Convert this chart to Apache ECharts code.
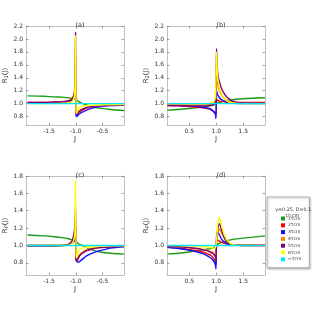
<!DOCTYPE html>
<html><head><meta charset="utf-8">
<script src="https://cdn.jsdelivr.net/npm/echarts@6/dist/echarts.min.js"></script>
<style>html,body{margin:0;padding:0;background:#fff}#c{width:312px;height:312px}</style>
</head><body><div id="c"></div>
<script>
// x positions (left panels a, c) and (right panels b, d)
const xLeft = [-1.9,-1.6,-1.4,-1.25,-1.15,-1.1,-1.06,-1.03,-1.015,-1.005,-0.995,-0.985,-0.97,-0.95,-0.92,-0.88,-0.8,-0.7,-0.55,-0.35,-0.1];
const xRight = [0.1,0.3,0.5,0.65,0.75,0.85,0.9,0.94,0.97,0.985,0.995,1.005,1.015,1.03,1.06,1.1,1.15,1.2,1.3,1.5,1.9];

const seriesNames = ['1τcm','2τcm','3τcm','4τcm','5τcm','6τcm','∞τcm'];
const seriesColors = ['#1a9a1a','#ff0000','#1010ff','#ff8c00','#800080','#ffff00','#00e5ff'];

// panel (a)
const a_1 = [1.12,1.115,1.105,1.10,1.09,1.085,1.08,1.075,1.07,1.065,1.06,1.055,1.045,1.035,1.02,1.005,0.98,0.955,0.93,0.91,0.895];
const a_2 = [1.02,1.02,1.025,1.03,1.04,1.06,1.09,1.15,1.22,1.30,0.85,0.83,0.84,0.86,0.88,0.90,0.93,0.95,0.965,0.975,0.98];
const a_3 = [1.01,1.01,1.015,1.02,1.03,1.04,1.07,1.12,1.20,1.45,0.82,0.80,0.81,0.83,0.85,0.87,0.90,0.93,0.955,0.97,0.98];
const a_4 = [1.015,1.015,1.02,1.025,1.035,1.05,1.08,1.14,1.25,1.75,0.85,0.83,0.85,0.88,0.90,0.92,0.94,0.955,0.97,0.98,0.985];
const a_5 = [1.02,1.02,1.025,1.03,1.04,1.05,1.08,1.15,1.35,2.10,0.86,0.83,0.84,0.87,0.89,0.91,0.94,0.955,0.97,0.98,0.985];
const a_6 = [1.0,1.0,1.0,1.005,1.01,1.02,1.04,1.10,1.30,2.05,0.90,0.85,0.88,0.92,0.95,0.96,0.97,0.975,0.98,0.985,0.99];
const a_7 = [1.0,1.0,1.0,1.0,1.0,1.0,1.0,1.0,1.0,1.0,1.0,1.0,1.0,1.0,1.0,1.0,1.0,1.0,1.0,1.0,1.0];

// panel (b)
const b_1 = [0.90,0.91,0.925,0.94,0.95,0.96,0.97,0.975,0.985,0.99,0.995,1.0,1.005,1.01,1.02,1.03,1.04,1.05,1.06,1.075,1.09];
const b_2 = [0.97,0.965,0.955,0.945,0.935,0.92,0.905,0.885,0.86,0.84,0.82,1.07,1.06,1.05,1.04,1.035,1.03,1.025,1.02,1.02,1.02];
const b_3 = [0.98,0.975,0.965,0.955,0.945,0.93,0.915,0.89,0.86,0.83,0.77,1.20,1.17,1.13,1.09,1.06,1.04,1.025,1.01,1.0,1.0];
const b_4 = [0.985,0.98,0.98,0.98,0.98,0.985,0.99,1.0,1.02,1.05,1.10,1.40,1.35,1.28,1.20,1.13,1.08,1.05,1.02,1.01,1.005];
const b_5 = [0.97,0.97,0.965,0.965,0.965,0.97,0.975,0.985,1.0,1.05,1.30,1.85,1.60,1.45,1.33,1.23,1.15,1.10,1.04,1.01,1.005];
const b_6 = [1.0,1.0,1.0,1.0,1.0,1.005,1.01,1.02,1.05,1.12,1.40,1.80,1.55,1.38,1.25,1.15,1.08,1.04,1.01,1.0,1.0];
const b_7 = [1.0,1.0,1.0,1.0,1.0,1.0,1.0,1.0,1.0,1.0,1.0,1.0,1.0,1.0,1.0,1.0,1.0,1.0,1.0,1.0,1.0];

// panel (c)
const c_1 = [1.12,1.11,1.10,1.09,1.08,1.07,1.065,1.06,1.05,1.045,1.04,1.035,1.03,1.02,1.01,1.0,0.975,0.95,0.925,0.91,0.90];
const c_2 = [1.0,1.0,1.0,1.0,1.01,1.02,1.04,1.08,1.14,1.22,0.86,0.83,0.84,0.86,0.89,0.91,0.94,0.96,0.975,0.985,0.99];
const c_3 = [0.99,0.99,0.99,1.0,1.01,1.02,1.03,1.05,1.08,1.10,0.85,0.82,0.81,0.81,0.82,0.84,0.88,0.91,0.94,0.97,0.985];
const c_4 = [1.0,1.0,1.0,1.0,1.01,1.03,1.06,1.12,1.20,1.30,0.85,0.82,0.84,0.87,0.90,0.92,0.95,0.965,0.98,0.99,0.99];
const c_5 = [1.0,1.0,1.0,1.0,1.01,1.03,1.07,1.15,1.25,1.45,0.84,0.82,0.83,0.86,0.89,0.91,0.94,0.96,0.975,0.985,0.99];
const c_6 = [1.0,1.0,1.0,1.0,1.0,1.01,1.03,1.08,1.20,1.75,0.90,0.86,0.90,0.94,0.96,0.97,0.98,0.985,0.99,0.995,1.0];
const c_7 = [1.0,1.0,1.0,1.0,1.0,1.0,1.0,1.0,1.0,1.0,1.0,1.0,1.0,1.0,1.0,1.0,1.0,1.0,1.0,1.0,1.0];

// panel (d)
const d_1 = [0.90,0.91,0.925,0.94,0.95,0.96,0.965,0.97,0.98,0.985,0.99,1.0,1.005,1.015,1.025,1.035,1.045,1.055,1.07,1.085,1.11];
const d_2 = [0.98,0.97,0.955,0.94,0.925,0.90,0.885,0.86,0.83,0.81,0.78,1.04,1.06,1.06,1.05,1.035,1.025,1.015,1.01,1.005,1.005];
const d_3 = [0.98,0.965,0.945,0.925,0.905,0.875,0.855,0.83,0.80,0.77,0.73,1.10,1.14,1.15,1.12,1.07,1.04,1.02,1.005,1.0,1.0];
const d_4 = [0.99,0.985,0.975,0.965,0.955,0.94,0.93,0.92,0.90,0.89,0.87,1.04,1.09,1.15,1.19,1.14,1.08,1.04,1.01,1.0,1.0];
const d_5 = [0.99,0.985,0.975,0.965,0.95,0.935,0.92,0.905,0.885,0.87,0.84,1.05,1.12,1.20,1.25,1.17,1.09,1.04,1.01,1.0,1.0];
const d_6 = [1.0,1.0,0.995,0.99,0.985,0.98,0.975,0.97,0.97,0.97,0.97,1.05,1.15,1.27,1.32,1.22,1.12,1.06,1.01,1.0,1.0];
const d_7 = [1.0,1.0,1.0,1.0,1.0,1.0,1.0,1.0,1.0,1.0,1.0,1.0,1.0,1.0,1.0,1.0,1.0,1.0,1.0,1.0,1.0];

const panelTitles = ['(a)','(b)','(c)','(d)'];
const panelSubs = ['1','2','P','P'];
const xTicksLeft = [-1.5,-1.0,-0.5];
const xTicksRight = [0.5,1.0,1.5];
const yTicksTop = [0.8,1.0,1.2,1.4,1.6,1.8,2.0,2.2];
const yTicksBottom = [0.8,1.0,1.2,1.4,1.6,1.8];
const legendTitle = 'γ=0.25, D=0.1;';
const legendSub = 't/τcm :';

const panelsY = [[a_1,a_2,a_3,a_4,a_5,a_6,a_7],[b_1,b_2,b_3,b_4,b_5,b_6,b_7],[c_1,c_2,c_3,c_4,c_5,c_6,c_7],[d_1,d_2,d_3,d_4,d_5,d_6,d_7]];

const boxes = [
  {left:26, top:26, xr:[-1.93,-0.1], yr:[0.67,2.2], xs:xLeft, xt:xTicksLeft, yt:yTicksTop},
  {left:167, top:26, xr:[0.09,1.9], yr:[0.67,2.2], xs:xRight, xt:xTicksRight, yt:yTicksTop},
  {left:26, top:176, xr:[-1.93,-0.1], yr:[0.66,1.8], xs:xLeft, xt:xTicksLeft, yt:yTicksBottom},
  {left:167, top:176, xr:[0.09,1.9], yr:[0.66,1.8], xs:xRight, xt:xTicksRight, yt:yTicksBottom}
];

const txt = '#333';
const frame = '#b0b0b0';
const grids=[], xAxes=[], yAxes=[], series=[], titles=[];
boxes.forEach((b,i)=>{
  grids.push({left:b.left, top:b.top, width:98, height:99, containLabel:false});
  const fmt = v => v.toFixed(1);
  xAxes.push({gridIndex:i, type:'value', min:b.xr[0], max:b.xr[1], position:'bottom',
    name:'J', nameLocation:'middle', nameGap:11, nameTextStyle:{fontSize:7, color:txt, fontFamily:'DejaVu Sans'},
    axisLine:{onZero:false, lineStyle:{color:frame, width:0.8}},
    axisTick:{inside:true, length:2.5, customValues:b.xt, lineStyle:{color:'#666', width:0.6}},
    axisLabel:{customValues:b.xt, formatter:fmt, fontSize:6, color:txt, margin:3, fontFamily:'DejaVu Sans'},
    splitLine:{show:false}});
  yAxes.push({gridIndex:i, type:'value', min:b.yr[0], max:b.yr[1], position:'left',
    name:'{r|R}{s|'+panelSubs[i]+'}{r|(J)}', nameLocation:'middle', nameGap:15,
    nameTextStyle:{rich:{r:{fontSize:7,color:txt,fontFamily:'DejaVu Sans'}, s:{fontSize:5,color:txt,fontFamily:'DejaVu Sans', padding:[4,0,0,0]}}},
    axisLine:{onZero:false, lineStyle:{color:frame, width:0.8}},
    axisTick:{inside:true, length:2.5, customValues:b.yt, lineStyle:{color:'#666', width:0.6}},
    axisLabel:{customValues:b.yt, formatter:fmt, fontSize:6, color:txt, margin:3, fontFamily:'DejaVu Sans'},
    splitLine:{show:false}});
  titles.push({text:panelTitles[i], left:b.left+49, top:b.top-9, textAlign:'center',
    textStyle:{fontSize:6.5, fontWeight:'normal', color:txt, fontFamily:'DejaVu Sans'}});
  panelsY[i].forEach((ys,k)=>{
    series.push({type:'line', name:seriesNames[k], xAxisIndex:i, yAxisIndex:i,
      data: b.xs.map((x,j)=>[x, ys[j]]), showSymbol:false, symbol:'none', smooth:0.25,
      lineStyle:{width:1.4, color:seriesColors[k]}, itemStyle:{color:seriesColors[k]}, z:2+k, animation:false});
  });
});
// mirror frame axes (top / right)
boxes.forEach((b,i)=>{
  xAxes.push({gridIndex:i, type:'value', min:b.xr[0], max:b.xr[1], position:'top',
    axisLine:{onZero:false, lineStyle:{color:frame, width:0.8}},
    axisTick:{inside:true, length:2.5, customValues:b.xt, lineStyle:{color:'#666', width:0.6}},
    axisLabel:{show:false}, splitLine:{show:false}});
  yAxes.push({gridIndex:i, type:'value', min:b.yr[0], max:b.yr[1], position:'right',
    axisLine:{onZero:false, lineStyle:{color:frame, width:0.8}},
    axisTick:{inside:true, length:2.5, customValues:b.yt, lineStyle:{color:'#666', width:0.6}},
    axisLabel:{show:false}, splitLine:{show:false}});
});
titles.push({text:legendTitle, left:289, top:202, textAlign:'center',
  textStyle:{fontSize:4.8, fontWeight:'normal', color:txt, fontFamily:'DejaVu Sans'}});
titles.push({text:legendSub, left:289, top:208, textAlign:'center',
  textStyle:{fontSize:4.8, fontWeight:'normal', color:txt, fontFamily:'DejaVu Sans'}});

const chart = echarts.init(document.getElementById('c'), null, {renderer:'canvas'});
chart.setOption({
  animation:false,
  title: titles,
  grid: grids, xAxis: xAxes, yAxis: yAxes, series: series,
  legend: {data: seriesNames, orient:'vertical', left:267, top:197,
    padding:[19,8,6,14], itemWidth:4, itemHeight:4, itemGap:1.8, icon:'rect',
    borderColor:'#999', borderWidth:0.7, backgroundColor:'#fff',
    shadowColor:'rgba(0,0,0,0.3)', shadowBlur:2, shadowOffsetX:1, shadowOffsetY:1,
    textStyle:{fontSize:4.5, color:txt, padding:[0,0,0,-2], fontFamily:'DejaVu Sans'}, selectedMode:false}
});
</script></body></html>
